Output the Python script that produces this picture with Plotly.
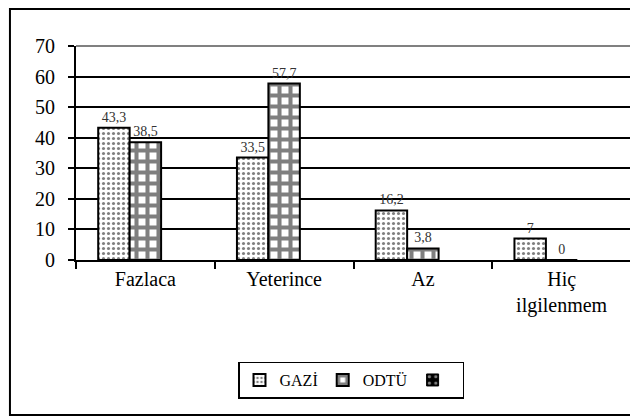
import plotly.graph_objects as go

# --- data ---
categories = ["Fazlaca", "Yeterince", "Az", "Hiç<br>ilgilenmem"]
gazi = [43.3, 33.5, 16.2, 7]
odtu = [38.5, 57.7, 3.8, 0]
series_names = ["GAZİ", "ODTÜ", " "]

FONT = "Liberation Serif, Times New Roman, serif"


def tr_label(v):
    # virgüllü ondalık
    s = f"{v:g}"
    return s.replace(".", ",")


fig = go.Figure()

fig.add_trace(go.Bar(
    x=categories, y=gazi, name=series_names[0],
    text=[tr_label(v) for v in gazi],
    textposition="outside", cliponaxis=False,
    textfont=dict(family=FONT, size=14, color="#333333"),
    marker=dict(
        color="white",
        line=dict(color="black", width=2),
        pattern=dict(shape=".", fgcolor="black", bgcolor="white",
                     size=5, solidity=0.3),
    ),
))

fig.add_trace(go.Bar(
    x=categories, y=odtu, name=series_names[1],
    text=[tr_label(v) for v in odtu],
    textposition="outside", cliponaxis=False,
    textfont=dict(family=FONT, size=14, color="#333333"),
    marker=dict(
        color="white",
        line=dict(color="black", width=2),
        pattern=dict(shape="+", fgcolor="black", bgcolor="white",
                     size=11, solidity=0.6),
    ),
))

# boş üçüncü seri (sadece lejantta, çubuk yerini korur)
fig.add_trace(go.Bar(
    x=categories, y=[None] * len(categories), name=series_names[2],
    marker=dict(
        color="black",
        line=dict(color="black", width=1),
        pattern=dict(shape=".", fgcolor="white", bgcolor="black",
                     size=8, solidity=0.2),
    ),
))

# dış çerçeve + gri çizim alanı kenarı
fig.add_shape(type="rect", xref="paper", yref="paper",
              x0=-0.119, x1=1.05, y0=-0.724, y1=1.173,
              line=dict(color="black", width=2))
fig.add_shape(type="line", xref="paper", yref="paper",
              x0=0, x1=1, y0=1, y1=1, line=dict(color="#808080", width=2))
fig.add_shape(type="line", xref="paper", yref="paper",
              x0=1, x1=1, y0=0, y1=1, line=dict(color="#808080", width=2))

fig.update_layout(
    width=638, height=417,
    margin=dict(l=68, r=15, t=38, b=165, autoexpand=False),
    paper_bgcolor="white", plot_bgcolor="white",
    font=dict(family=FONT, size=20, color="black"),
    barmode="group", bargap=0.32, bargroupgap=0,
    showlegend=True,
    legend=dict(
        orientation="h", x=0.4955, xanchor="center", y=-0.561, yanchor="middle",
        bordercolor="black", borderwidth=1.5, bgcolor="white",
        font=dict(family=FONT, size=16), itemwidth=30,
    ),
)

fig.update_xaxes(
    automargin=False,
    showline=True, linecolor="black", linewidth=2,
    ticks="outside", ticklen=7, tickcolor="black", tickwidth=2,
    tickson="boundaries", showgrid=False,
    tickfont=dict(family=FONT, size=20),
)

fig.update_yaxes(
    automargin=False,
    range=[0, 70], dtick=10,
    showline=True, linecolor="black", linewidth=2,
    ticks="outside", ticklen=6, tickcolor="black", tickwidth=2,
    showgrid=True, gridcolor="black", gridwidth=1.5,
    zeroline=False,
    tickfont=dict(family=FONT, size=20),
    ticklabelstandoff=9,
)

fig.write_html("out.html")
